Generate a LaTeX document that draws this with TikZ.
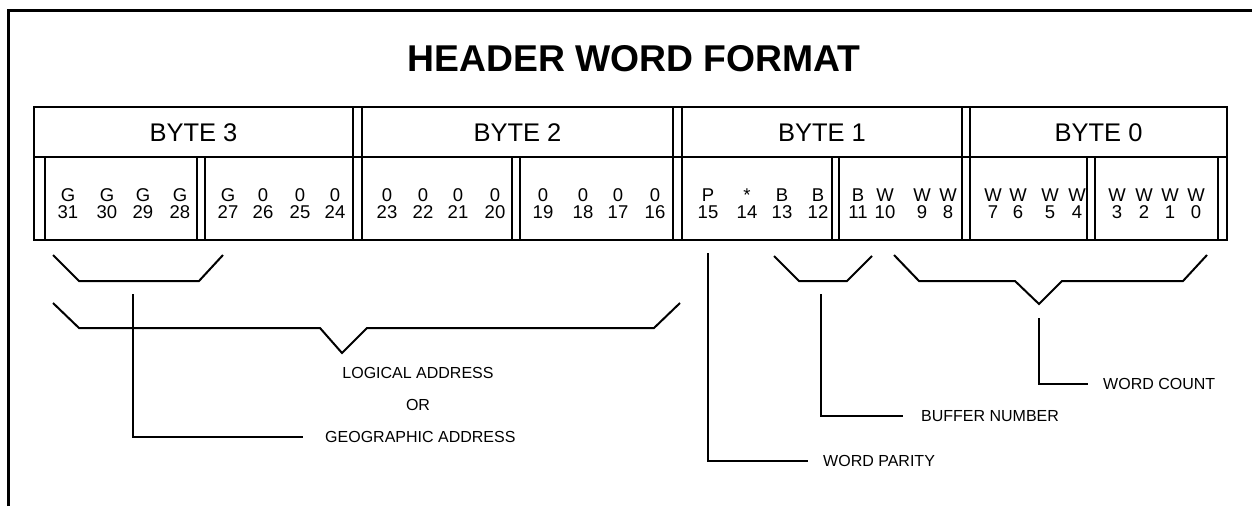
\documentclass[tikz,border=0pt]{standalone}
\usepackage{fontspec}
\setmainfont{Liberation Sans}
\begin{document}
\begin{tikzpicture}[x=1pt,y=-1pt,
  frame/.style={line width=3pt},
  tbl/.style={line width=2.2pt},
  brk/.style={line width=2pt, line join=miter},
  ttl/.style={font=\fontsize{37.3}{40}\selectfont\bfseries, inner sep=0pt},
  hdr/.style={font=\fontsize{25.5}{28}\selectfont, inner sep=0pt},
  bit/.style={font=\fontsize{18.5}{20}\selectfont, inner sep=0pt, anchor=base},
  lbl/.style={font=\fontsize{16}{18}\selectfont, inner sep=0pt},
]
\useasboundingbox (0,0) rectangle (1252,506);
\fill[white] (0,0) rectangle (1252,506);
% outer frame (top and left only)
\draw[frame] (8,506) -- (8,10) -- (1252,10);
% title
\node[ttl] (title) at (634,59) {HEADER WORD FORMAT};
% table
\draw[tbl] (34,107) rectangle (1227,240);
\draw[tbl] (34,157) -- (1227,157);
\foreach \x in {353,362,673,682,962,970} \draw[tbl] (\x,107) -- (\x,240);
\foreach \x in {45,197,205,512,520,832,839,1087,1095,1218} \draw[tbl] (\x,157) -- (\x,240);
% byte headers
\node[hdr] (b3) at (193.5,132.5) {BYTE 3};
\node[hdr] (b2) at (517.5,132.5) {BYTE 2};
\node[hdr] (b1) at (822,132.5) {BYTE 1};
\node[hdr] (b0) at (1098.5,132.5) {BYTE 0};
% bits
\foreach \x/\l/\n in {68/G/31,107/G/30,143/G/29,180/G/28,228/G/27,263/0/26,300/0/25,335/0/24,
  387/0/23,423/0/22,458/0/21,495/0/20,543/0/19,583/0/18,618/0/17,655/0/16,
  708/P/15,747/*/14,782/B/13,818/B/12,858/B/11,885/W/10,922/W/9,948/W/8,
  993/W/7,1018/W/6,1050/W/5,1077/W/4,1117/W/3,1144/W/2,1170/W/1,1196/W/0}{
  \node[bit] (l\n) at (\x,201.5) {\l};
  \node[bit] (n\n) at (\x,218.5) {\n};
}
% labels
\node[lbl] (logical) at (418,373) {LOGICAL ADDRESS};
\node[lbl] (or) at (418,405) {OR};
\node[lbl,anchor=west] (geo) at (325,437) {GEOGRAPHIC ADDRESS};
\node[lbl,anchor=west] (parity) at (823,461) {WORD PARITY};
\node[lbl,anchor=west] (buffer) at (921,416) {BUFFER NUMBER};
\node[lbl,anchor=west] (count) at (1103,384) {WORD COUNT};
% brackets
\draw[brk] (53,255) -- (79,281) -- (199,281) -- (223,255);
\draw[brk] (53,303) -- (79,328) -- (320,328) -- (342,353) -- (367,328) -- (654,328) -- (680,303);
\draw[brk] (774,256) -- (799,281) -- (847,281) -- (872,256);
\draw[brk] (894,255) -- (919,281) -- (1015,281) -- (1039,304) -- (1062,281) -- (1183,281) -- (1207,255);
% leaders
\coordinate (gTop) at (133,294);
\coordinate (pTop) at (708,253);
\coordinate (bTop) at (821,294);
\coordinate (wTop) at (1039,318);
\draw[brk] (gTop) |- ([xshift=-22pt]geo.west);
\draw[brk] (pTop) |- ([xshift=-15pt]parity.west);
\draw[brk] (bTop) |- ([xshift=-18pt]buffer.west);
\draw[brk] (wTop) |- ([xshift=-15pt]count.west);
\end{tikzpicture}
\end{document}
